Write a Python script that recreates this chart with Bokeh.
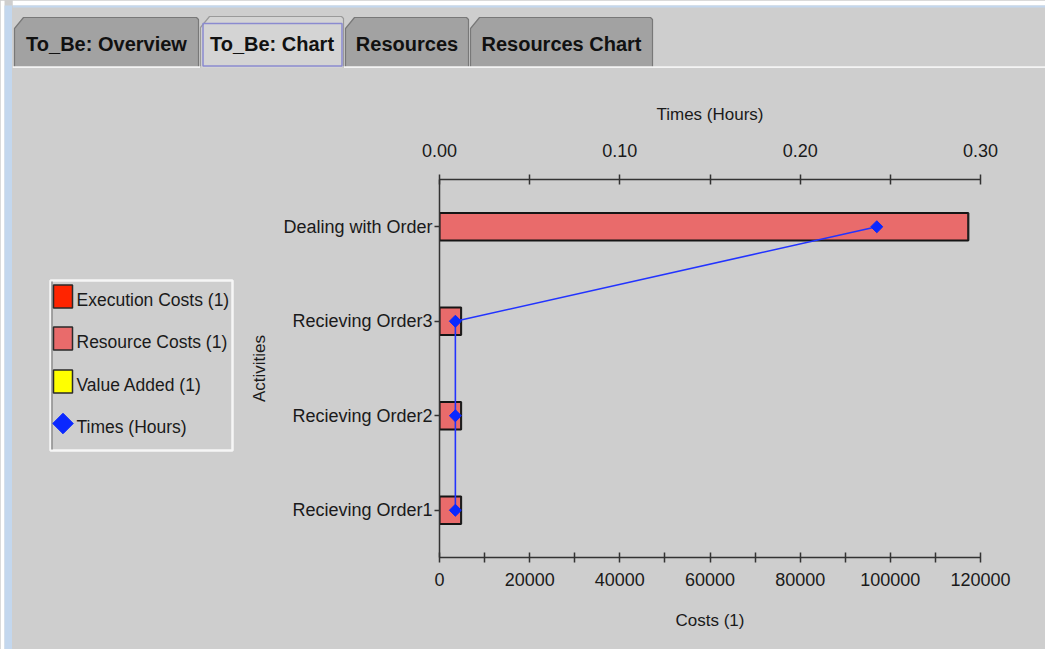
import math
from bokeh.plotting import figure
from bokeh.models import (Range1d, FactorRange, LinearAxis, FixedTicker, PrintfTickFormatter,
                          BasicTickFormatter, ColumnDataSource)
from bokeh.layouts import row, column
from bokeh.core.properties import value
from bokeh.embed import file_html
from bokeh.resources import INLINE

# ---------------- data ----------------
activities = ["Recieving Order1", "Recieving Order2", "Recieving Order3", "Dealing with Order"]
execution_costs = [0, 0, 0, 0]
resource_costs = [4800, 4800, 4800, 117300]
value_added = [0, 0, 0, 0]
times_hours = [0.0088, 0.0088, 0.0088, 0.2425]
cost_ticks = [0, 20000, 40000, 60000, 80000, 100000, 120000]
cost_minor_ticks = [10000, 30000, 50000, 70000, 90000, 110000]
time_ticks = [0.0, 0.1, 0.2, 0.3]
time_minor_ticks = [0.05, 0.15, 0.25]
series_labels = ["Execution Costs (1)", "Resource Costs (1)", "Value Added (1)", "Times (Hours)"]
tab_labels = ["To_Be: Overview", "To_Be: Chart", "Resources", "Resources Chart"]
selected_tab = 1

# ---------------- styles ----------------
BG = "#cecece"
BLUE_EDGE = "#c3d7ee"
FONT = value("Liberation Sans")
TXT = "#1a1a1a"
AX = "#333333"
EXEC_C = "#ff2400"
RES_C = "#e96b6b"
VA_C = "#ffff00"
TIME_C = "#0a28ff"
HATCH = dict(hatch_pattern="checker", hatch_color="#c84848", hatch_alpha=0.45, hatch_scale=3)


def bare(fig):
    fig.background_fill_color = None
    fig.border_fill_color = BG
    fig.outline_line_color = None
    fig.frame_align = False
    fig.grid.visible = False
    return fig


# ---------------- left edge strip ----------------
strip = bare(figure(width=12, height=649, output_backend="svg", toolbar_location=None,
                    x_axis_type=None, y_axis_type=None, min_border=0,
                    x_range=Range1d(0, 12), y_range=Range1d(649, 0)))
strip.quad(left=[0, 4], right=[4, 12], top=[0, 5], bottom=[649, 649],
           fill_color=["#ffffff", BLUE_EDGE], line_color=None)

# ---------------- tab strip ----------------
tabs = bare(figure(width=1033, height=68, output_backend="svg", toolbar_location=None,
                   x_axis_type=None, y_axis_type=None, min_border=0,
                   x_range=Range1d(12, 1045), y_range=Range1d(68, 0)))
tabs.quad(left=[12, 12], right=[1045, 1045], top=[0, 5], bottom=[5, 7],
          fill_color=["#ffffff", BLUE_EDGE], line_color=None)

tab_lefts = [14, 200, 345, 470]
tab_rights = [198, 343, 468, 652]
tab_tops = [17, 16, 17, 17]
xs, ys, fills, lines = [], [], [], []
for i, (l, r, t) in enumerate(zip(tab_lefts, tab_rights, tab_tops)):
    b = 70
    xs.append([l, l, l + 9, r - 2, r, r])
    ys.append([b, t + 11, t, t, t + 2, b])
    fills.append("#d4d4d4" if i == selected_tab else "#a2a2a2")
    lines.append("#9a9a9a" if i == selected_tab else "#787878")
tabs.patches(xs, ys, fill_color=fills, line_color=lines, line_width=1.2)
sl, sr = tab_lefts[selected_tab], tab_rights[selected_tab]
tabs.quad(left=[sl + 2.5], right=[sr - 1.5], top=[23], bottom=[65.5],
          fill_alpha=0, line_color="#8a8ad0", line_width=1.5)
tabs.segment(x0=[12, sr], x1=[sl, 1045], y0=[67, 67], y1=[67, 67],
             line_color="#f4f4f4", line_width=2.5)
tabs.text(x=[(l + r) / 2 for l, r in zip(tab_lefts, tab_rights)], y=[43] * 4, text=tab_labels,
          text_align="center", text_baseline="middle", text_font=FONT,
          text_font_size="20px", text_font_style="bold", text_color="#111111")

# ---------------- legend panel ----------------
LW = 222
leg = bare(figure(width=LW, height=581, output_backend="svg", toolbar_location=None,
                  x_axis_type=None, y_axis_type=None, min_border=0,
                  x_range=Range1d(12, 12 + LW), y_range=Range1d(649, 68)))
box_l, box_r, box_t, box_b = 50, 232, 280, 450
leg.quad(left=[box_l], right=[box_r], top=[box_t], bottom=[box_b],
         fill_color=BG, line_color="#f6f6f6", line_width=2.5)
leg.segment(x0=[box_l + 1.5], x1=[box_l + 1.5], y0=[box_t + 1], y1=[box_b - 1],
            line_color="#8c8c8c", line_width=1.5)
item_y = [296, 338, 381, 423]
sw_l, sw_r, sw_h = 53, 72, 23
leg.quad(left=[sw_l] * 3, right=[sw_r] * 3,
         top=[y - sw_h / 2 for y in item_y[:3]], bottom=[y + sw_h / 2 for y in item_y[:3]],
         fill_color=[EXEC_C, RES_C, VA_C], line_color="#2a2a2a", line_width=1.5)
leg.quad(left=[sw_l], right=[sw_r], top=[item_y[1] - sw_h / 2], bottom=[item_y[1] + sw_h / 2],
         fill_alpha=0, line_alpha=0, **HATCH)
leg.scatter(x=[62.5], y=[item_y[3]], marker="square", angle=math.pi / 4, size=14.5,
            fill_color=TIME_C, line_color=TIME_C)
leg.text(x=[76] * 4, y=[y + 3 for y in item_y], text=series_labels,
         text_align="left", text_baseline="middle", text_font=FONT,
         text_font_size="17.5px", text_color=TXT)

# ---------------- main chart ----------------
MX = 12 + LW
p = bare(figure(width=1045 - MX, height=581, output_backend="svg", toolbar_location=None,
                y_range=FactorRange(factors=activities, range_padding=0),
                x_range=Range1d(0, 120000),
                min_border_left=439 - MX, min_border_right=65, min_border_top=111,
                min_border_bottom=92))
p.extra_x_ranges = {"times": Range1d(0, 0.3)}

src = ColumnDataSource(dict(
    act=activities,
    ex=execution_costs,
    rc=resource_costs,
    va_left=[a + b for a, b in zip(execution_costs, resource_costs)],
    va_right=[a + b + c for a, b, c in zip(execution_costs, resource_costs, value_added)],
    t=times_hours,
))

p.hbar(y="act", left=0, right="ex", height=0.29, source=src,
       fill_color=EXEC_C, line_color="#202020", line_width=1.5)
p.hbar(y="act", left="ex", right="rc", height=0.29, source=src,
       fill_color=RES_C, line_color="#151515", line_width=2, **HATCH)
p.hbar(y="act", left="va_left", right="va_right", height=0.29, source=src,
       fill_color=VA_C, line_color="#202020", line_width=1.5)
p.line(x="t", y="act", source=src, x_range_name="times",
       line_color="#2233ff", line_width=1.6)
p.scatter(x="t", y="act", source=src, x_range_name="times", marker="square",
          angle=math.pi / 4, size=8.5, fill_color=TIME_C, line_color=TIME_C)

xa = p.xaxis[0]
xa.ticker = FixedTicker(ticks=cost_ticks, minor_ticks=cost_minor_ticks)
xa.formatter = BasicTickFormatter(use_scientific=False)
xa.axis_label = "Costs (1)"

ta = LinearAxis(x_range_name="times", axis_label="Times (Hours)",
                ticker=FixedTicker(ticks=time_ticks, minor_ticks=time_minor_ticks),
                formatter=PrintfTickFormatter(format="%.2f"))
p.add_layout(ta, "above")

for ax in (xa, ta):
    ax.major_tick_in = 5
    ax.major_tick_out = 5
    ax.minor_tick_in = 5
    ax.minor_tick_out = 5
    ax.minor_tick_line_color = AX
    ax.minor_tick_line_width = 1.5

xa.major_label_standoff = 10
xa.axis_label_standoff = 22
ta.major_label_standoff = 18
ta.axis_label_standoff = 17

ya = p.yaxis[0]
ya.axis_label = "Activities"
ya.major_tick_in = 0
ya.major_tick_out = 5
ya.major_label_standoff = 2
ya.axis_label_standoff = 11

for ax in (xa, ta, ya):
    ax.axis_line_color = AX
    ax.axis_line_width = 1.5
    ax.major_tick_line_color = AX
    ax.major_tick_line_width = 1.5
    ax.major_label_text_font = "Liberation Sans"
    ax.major_label_text_font_size = "18px"
    ax.major_label_text_color = TXT
    ax.axis_label_text_font = "Liberation Sans"
    ax.axis_label_text_font_size = "17px"
    ax.axis_label_text_font_style = "normal"
    ax.axis_label_text_color = TXT

inner = row(leg, p, spacing=0)
inner.styles = {"background-color": BG}
right_col = column(tabs, inner, spacing=0)
right_col.styles = {"background-color": BG}
layout = row(strip, right_col, spacing=0)
layout.styles = {"background-color": BG}
open("out.html", "w").write(file_html(layout, INLINE))
